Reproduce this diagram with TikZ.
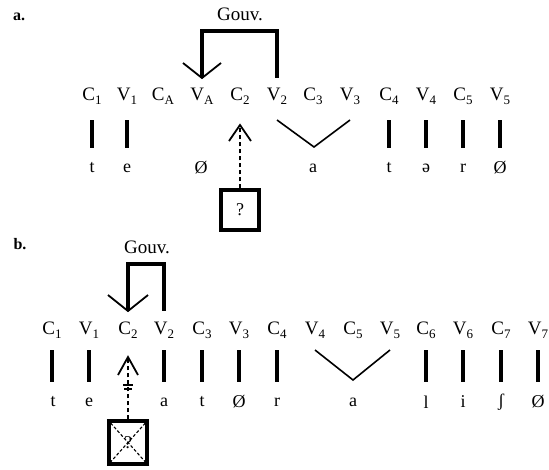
\documentclass[tikz,border=0pt]{standalone}
\usepackage{fontspec}
\setmainfont{Liberation Serif}
\newcommand\sbx[1]{\raisebox{-0.45ex}{\fontsize{13}{13}\selectfont #1}}
\tikzset{
  lab/.style={inner sep=0pt,font=\fontsize{19}{22}\selectfont,anchor=center},
  mel/.style={inner sep=0pt,font=\fontsize{18}{22}\selectfont,anchor=center},
  part/.style={inner sep=0pt,font=\fontsize{16}{18}\selectfont\bfseries},
  assoc/.style={line width=3.2pt},
  vline/.style={line width=1.6pt},
  brack/.style={line width=3.2pt},
  arm/.style={line width=1.8pt},
  dsh/.style={line width=1.8pt,dash pattern=on 4pt off 3pt},
  qbox/.style={draw,line width=3.2pt,minimum width=38pt,minimum height=40pt,inner sep=0pt,font=\fontsize{18}{20}\selectfont}
}
\begin{document}
\begin{tikzpicture}[x=1pt,y=-1pt]
\useasboundingbox (0,0) rectangle (549,469);
% ---------- part a ----------
\node[part] (pa) at (19,17) {a.};
\node[lab] (gouva) at (240,14) {Gouv.};
\foreach \n/\t/\x in {C1/C\sbx{1}/92, V1/V\sbx{1}/127, CA/C\sbx{A}/163, VA/V\sbx{A}/202, C2/C\sbx{2}/240, V2/V\sbx{2}/277, C3/C\sbx{3}/313, V3/V\sbx{3}/350, C4/C\sbx{4}/389, V4/V\sbx{4}/426, C5/C\sbx{5}/463, V5/V\sbx{5}/500}{
  \node[lab] (a\n) at (\x,96) {\t};
  \coordinate (a\n-top) at (\x,120);
  \coordinate (a\n-bot) at (\x,148);
}
\foreach \n/\t/\x in {1/t/92, 2/e/127, 3/Ø/201, 4/a/313, 5/t/389, 6/ə/426, 7/r/463, 8/Ø/500}{
  \node[mel] (am\n) at (\x,168) {\t};
}
\foreach \n in {C1,V1,C4,V4,C5,V5}{\draw[assoc] (a\n-top) -- (a\n-bot);}
\coordinate (aVbot) at (314,147);
\draw[vline] (aV2-top) -- (aVbot) -- (aV3-top);
% bracket
\coordinate (abrL) at (202,78);
\coordinate (abrR) at (277,78);
\draw[brack] (abrL) -- (202,31) -- (277,31) -- (abrR);
\draw[arm] (183,63) -- (abrL) -- (221,63);
% question box and dashed arrow
\node[qbox] (boxa) at (240,210) {?};
\coordinate (atip) at (240,125);
\draw[dsh] (boxa.north) -- (atip);
\draw[arm] (229,141) -- (atip) -- (251,141);
% ---------- part b ----------
\node[part] (pb) at (20,244) {b.};
\node[lab] (gouvb) at (147,247) {Gouv.};
\foreach \n/\t/\x in {C1/C\sbx{1}/52, V1/V\sbx{1}/89, C2/C\sbx{2}/128, V2/V\sbx{2}/164, C3/C\sbx{3}/202, V3/V\sbx{3}/239, C4/C\sbx{4}/277, V4/V\sbx{4}/315, C5/C\sbx{5}/353, V5/V\sbx{5}/390, C6/C\sbx{6}/426, V6/V\sbx{6}/463, C7/C\sbx{7}/501, V7/V\sbx{7}/538}{
  \node[lab] (b\n) at (\x,330) {\t};
  \coordinate (b\n-top) at (\x,350);
  \coordinate (b\n-bot) at (\x,382);
}
\foreach \n/\t/\x in {1/t/53, 2/e/89, 3/a/164, 4/t/202, 5/Ø/239, 6/r/277, 7/a/353, 8/l/426, 9/i/463, 10/ʃ/501, 11/Ø/538}{
  \node[mel] (bm\n) at (\x,402) {\t};
}
\foreach \n in {C1,V1,V2,C3,V3,C4,C6,V6,C7,V7}{\draw[assoc] (b\n-top) -- (b\n-bot);}
\coordinate (bVbot) at (353,380);
\draw[vline] (bV4-top) -- (bVbot) -- (bV5-top);
% bracket
\coordinate (bbrL) at (128,311);
\coordinate (bbrR) at (164,311);
\draw[brack] (bbrL) -- (128,264) -- (164,264) -- (bbrR);
\draw[arm] (108,295) -- (bbrL) -- (148,295);
% crossed box and blocked arrow
\node[qbox,minimum height=43pt] (boxb) at (128,442.5) {?};
\draw[line width=1.1pt,dash pattern=on 3pt off 2pt] (boxb.north west) -- (boxb.south east) (boxb.north east) -- (boxb.south west);
\coordinate (btip) at (128,357);
\draw[dsh] (boxb.north) -- (btip);
\draw[arm] (118,375) -- (btip) -- (138,375);
\coordinate (bx1) at (128,385);
\coordinate (bx2) at (128,389);
\draw[line width=1.2pt] ([xshift=-5pt]bx1) -- ([xshift=5pt]bx1) ([xshift=-4pt]bx2) -- ([xshift=4pt]bx2);
\end{tikzpicture}
\end{document}
